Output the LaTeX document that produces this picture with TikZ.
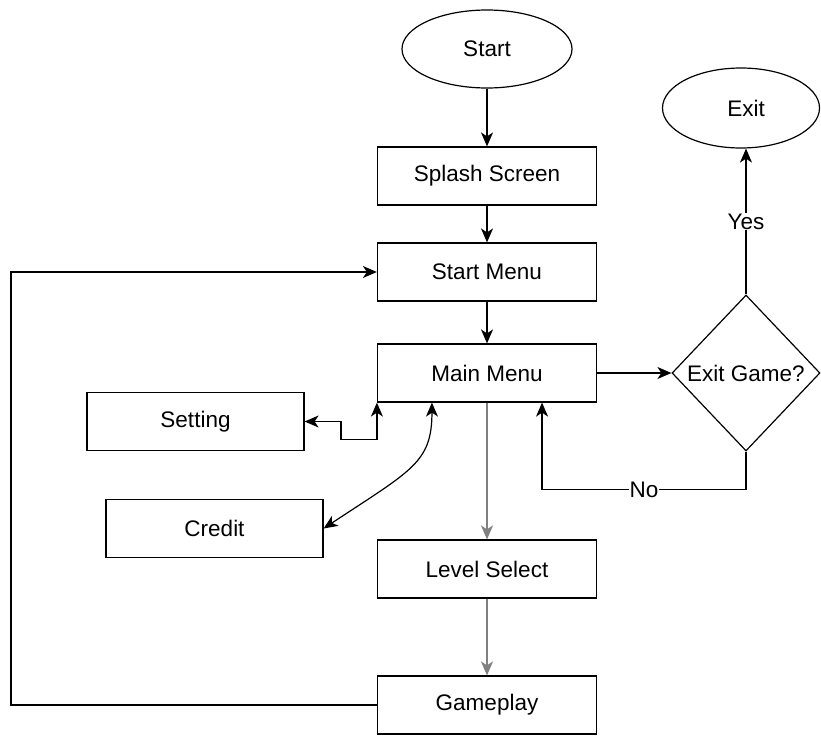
\documentclass[tikz,border=0pt]{standalone}
\usepackage{fontspec}
\setmainfont{Liberation Sans}
\usepackage{tikz}
\usetikzlibrary{calc}
\usetikzlibrary{shapes.geometric,arrows.meta}

\tikzset{
    blk/.tip={Stealth[length=14pt,width=12pt,inset=4pt]},
    box/.style={draw, line width=1.2pt, minimum width=219pt, minimum height=58pt},
    oval/.style={draw, ellipse, line width=1.2pt, inner sep=0pt},
    arr/.style={-blk, line width=1.2pt},
    lbl/.style={fill=white, inner sep=1pt}
}

\begin{document}
\begin{tikzpicture}[x=1pt, y=-1pt, font=\fontsize{22.5}{26}\selectfont]
        \useasboundingbox (0,0) rectangle (821,736);
        \node[oval, minimum width=170pt, minimum height=78pt](start) at (487,49) {Start};
        \node[box](splash) at (487,176) {Splash Screen};
        \node[box](startmenu) at (487,272) {Start Menu};
        \node[box](mainmenu) at (487,373) {Main Menu};
        \node[box](levelselect) at (487,569) {Level Select};
        \node[box](gameplay) at (487,705) {Gameplay};
        \node[box, minimum width=217pt](setting) at (195.5,421.5) {Setting};
        \node[box, minimum width=217pt](credit) at (214.5,528.5) {Credit};
        \node[draw, diamond, line width=1.2pt, inner sep=0pt, minimum width=148pt, minimum height=156pt](exitgame) at (746,373) {Exit Game?};
        \node[oval, minimum width=157pt, minimum height=80pt](exit) at (741,108) {\hspace*{10pt}Exit};

        \draw[arr, line width=1.8pt] (start) -- (splash);
        \draw[arr, line width=1.8pt] (splash) -- (startmenu);
        \draw[arr, line width=1.8pt] (startmenu) -- (mainmenu);
        \draw[arr, line width=1.8pt, gray] (mainmenu) -- (levelselect);
        \draw[arr, line width=1.8pt, gray] (levelselect) -- (gameplay);
        \draw[arr] (gameplay.west) -- ++(-366,0) |- (startmenu.west);
        \draw[arr] (mainmenu.east) -- (exitgame.west);
        \draw[arr] (exitgame.north) -- node[lbl]{Yes} (exitgame.north |- exit.south);
        \draw[arr] (exitgame.south) |- node[pos=0.75, lbl]{No} ($(mainmenu.south west)!0.75!(mainmenu.south east)+(0,87)$) -- ($(mainmenu.south west)!0.75!(mainmenu.south east)$);
        \draw[arr, blk-blk] (mainmenu.south west) -- ++(0,37) -- ++(-36,0) |- (setting.east);
        \draw[arr, blk-blk] ($(mainmenu.south west)!0.25!(mainmenu.south east)$) .. controls +(0,60) and (412,470) .. (credit.east);
    \end{tikzpicture}
\end{document}
